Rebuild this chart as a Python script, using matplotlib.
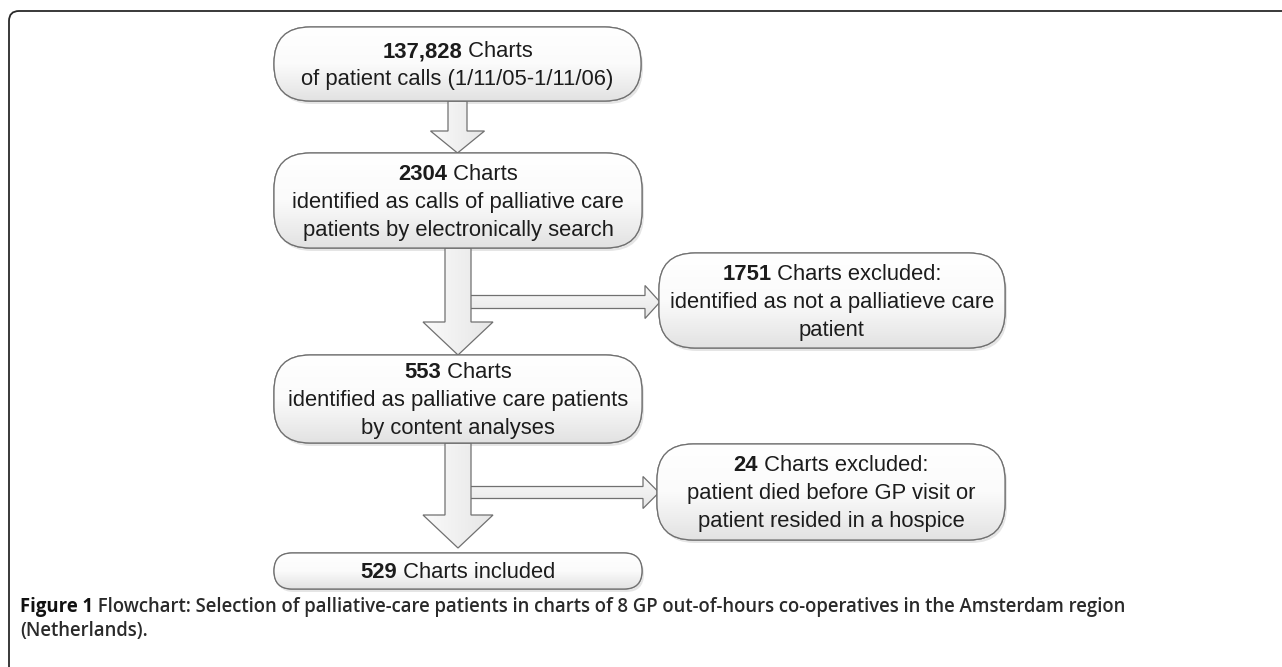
import matplotlib
matplotlib.use('Agg')
import matplotlib.pyplot as plt
from matplotlib.patches import FancyBboxPatch, PathPatch
from matplotlib.path import Path
from matplotlib.colors import LinearSegmentedColormap
import numpy as np

# ---------------- data ----------------
counts = ["137,828", "2304", "1751", "553", "24", "529"]
headlines = [" Charts", " Charts", " Charts excluded:", " Charts", " Charts excluded:", " Charts included"]
detail_lines = [
    ["of patient calls (1/11/05-1/11/06)"],
    ["identified as calls of palliative care", "patients by electronically search"],
    ["identified as not a palliatieve care", "patient"],
    ["identified as palliative care patients", "by content analyses"],
    ["patient died before GP visit or", "patient resided in a hospice"],
    [],
]
caption_label = "Figure 1"
caption_lines = [" Flowchart: Selection of palliative-care patients in charts of 8 GP out-of-hours co-operatives in the Amsterdam region",
                 "(Netherlands)."]

# ---------------- layout (pixels) ----------------
W, H = 1282, 667
box_pos = [
    (274, 27, 641, 101),
    (274, 153, 642, 248),
    (659, 253, 1005, 348),
    (274, 355, 642, 443),
    (657, 444, 1005, 540),
    (274, 553, 642, 589),
]
LINE_SP = 28
FS = 15.8
TXT = '#1c1c1c'
EDGE = '#707070'

fig = plt.figure(figsize=(W / 100, H / 100), dpi=100)
ax = fig.add_axes([0, 0, 1, 1])
ax.set_xlim(0, W)
ax.set_ylim(H, 0)
ax.axis('off')
renderer = fig.canvas.get_renderer()

cmap_box = LinearSegmentedColormap.from_list('g', ['#ffffff', '#fbfbfb', '#e2e2e2'])
cmap_arr = LinearSegmentedColormap.from_list('a', ['#fafafa', '#e6e6e6'])


def grad_fill(patch, extent, cmap, z, horizontal=False):
    g = np.linspace(0, 1, 256)
    arr = g[None, :] if horizontal else g[:, None]
    im = ax.imshow(arr, extent=extent, cmap=cmap, aspect='auto', zorder=z,
                   interpolation='bilinear', origin='upper')
    im.set_clip_path(patch)


# outer frame
r0 = 10
frame = Path([(9, H + 5), (9, 11 + r0), (9, 11), (9 + r0, 11), (W + 5, 11)],
             [Path.MOVETO, Path.LINETO, Path.CURVE3, Path.CURVE3, Path.LINETO])
ax.add_patch(PathPatch(frame, fill=False, edgecolor='#2a2a2a', lw=1.3, zorder=1))


def draw_box(x0, y0, x1, y1):
    w, h = x1 - x0, y1 - y0
    r = min(36, h / 2)
    sh = FancyBboxPatch((x0 + 2, y0 + 3), w, h, boxstyle=f"round,pad=0,rounding_size={r}",
                        facecolor='#d4d4d4', edgecolor='none', alpha=0.6, zorder=2)
    ax.add_patch(sh)
    p = FancyBboxPatch((x0, y0), w, h, boxstyle=f"round,pad=0,rounding_size={r}",
                       facecolor='white', edgecolor=EDGE, lw=0.9, zorder=3)
    ax.add_patch(p)
    grad_fill(p, (x0, x1, y1, y0), cmap_box, 3.5)
    p2 = FancyBboxPatch((x0, y0), w, h, boxstyle=f"round,pad=0,rounding_size={r}",
                        facecolor='none', edgecolor=EDGE, lw=0.9, zorder=4)
    ax.add_patch(p2)


def width_of(s, fs=FS, **kw):
    t = ax.text(0, 0, s, fontsize=fs, **kw)
    wdt = t.get_window_extent(renderer).width
    t.remove()
    return wdt


for (x0, y0, x1, y1), cnt, head, det in zip(box_pos, counts, headlines, detail_lines):
    draw_box(x0, y0, x1, y1)
    cx = (x0 + x1) / 2
    n = 1 + len(det)
    cy = (y0 + y1) / 2
    ys = [cy + (i - (n - 1) / 2) * LINE_SP for i in range(n)]
    off = 7.4
    fam = 'Liberation Sans'
    wb = width_of(cnt, family=fam, weight='bold')
    wr = width_of(head, family=fam)
    sx = cx - (wb + wr) / 2
    ax.text(sx, ys[0] + off, cnt, fontsize=FS, family=fam, weight='bold', color=TXT,
            ha='left', va='baseline', zorder=6)
    ax.text(sx + wb, ys[0] + off, head, fontsize=FS, family=fam, color=TXT,
            ha='left', va='baseline', zorder=6)
    for yy, s in zip(ys[1:], det):
        ax.text(cx, yy + off, s, fontsize=FS, family=fam, color=TXT,
                ha='center', va='baseline', zorder=6)


def draw_down_arrow(cx, ys, yh, yt, sh, hh):
    pts = [(cx - sh, ys), (cx + sh, ys), (cx + sh, yh), (cx + hh, yh), (cx, yt),
           (cx - hh, yh), (cx - sh, yh), (cx - sh, ys)]
    path = Path(pts, closed=True)
    p = PathPatch(path, facecolor='#f0f0f0', edgecolor='none', zorder=2.6)
    ax.add_patch(p)
    grad_fill(p, (cx - hh, cx + hh, yt, ys), cmap_arr, 2.7, horizontal=True)
    ax.add_patch(PathPatch(Path(pts), fill=False, edgecolor=EDGE, lw=0.9, zorder=2.8))


def draw_right_arrow(xs, xh, xt, cy, sh, hh):
    pts = [(xs, cy - sh), (xh, cy - sh), (xh, cy - hh), (xt, cy), (xh, cy + hh),
           (xh, cy + sh), (xs, cy + sh)]
    path = Path(pts + [pts[0]], closed=True)
    p = PathPatch(path, facecolor='#f0f0f0', edgecolor='none', zorder=2.6)
    ax.add_patch(p)
    grad_fill(p, (xs, xt, cy + hh, cy - hh), cmap_arr, 2.7)
    ax.add_patch(PathPatch(Path(pts), fill=False, edgecolor=EDGE, lw=0.9, zorder=2.8))


# arrows between boxes
draw_down_arrow(457.5, 101, 131, 153, 9.5, 27)
draw_down_arrow(458, 248, 322, 355, 13, 35)
draw_down_arrow(458, 443, 515, 548, 13, 35)
draw_right_arrow(471, 645, 660, 302, 6.5, 16.5)
draw_right_arrow(471, 643, 659, 492.5, 6, 16)

# caption
cap_fam = 'Open Sans'
target = 1132 - 20
w1 = width_of(caption_label, fs=12, family=cap_fam, weight='bold') + \
     width_of(caption_lines[0], fs=12, family=cap_fam, weight='semibold')
cfs = 12 * target / w1
wlab = width_of(caption_label, fs=cfs, family=cap_fam, weight='bold')
ax.text(20, 612, caption_label, fontsize=cfs, family=cap_fam, weight='bold', color='#111111',
        ha='left', va='baseline')
ax.text(20 + wlab, 612, caption_lines[0], fontsize=cfs, family=cap_fam, weight='semibold',
        color='#2a2a2a', ha='left', va='baseline')
ax.text(20, 636, caption_lines[1], fontsize=cfs, family=cap_fam, weight='semibold',
        color='#2a2a2a', ha='left', va='baseline')

fig.savefig('out.png', dpi=100, facecolor='white')
